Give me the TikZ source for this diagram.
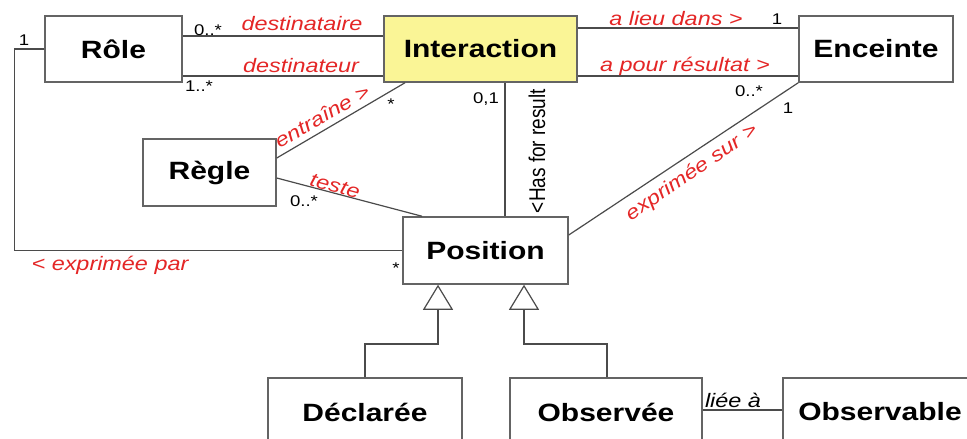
\documentclass[tikz,border=0pt]{standalone}
\usepackage{fontspec}
\usepackage{graphicx}
\setmainfont{Liberation Sans}[FakeStretch=1.2]
\newfontfamily\plainsans{Liberation Sans}
\usetikzlibrary{arrows.meta,calc}
\definecolor{umlred}{RGB}{228,38,38}
\definecolor{umlyellow}{RGB}{250,245,150}
\definecolor{umlline}{RGB}{75,75,75}
\definecolor{umlbox}{RGB}{100,100,100}
\begin{document}
\begin{tikzpicture}[x=1pt,y=-1pt,
  cls/.style={draw=umlbox,line width=1.5pt,fill=white,inner sep=0pt,
    font=\fontsize{25}{28}\selectfont\bfseries},
  conn/.style={draw=umlline,line width=1.2pt},
  rlab/.style={text=umlred,inner sep=0pt,font=\fontsize{19.5}{22}\selectfont\itshape},
  blab/.style={text=black,inner sep=0pt,font=\fontsize{19.5}{22}\selectfont\itshape},
  mult/.style={text=black,inner sep=0pt,font=\fontsize{15.5}{18}\selectfont},
  gen/.style={conn,-{Triangle[open,length=25pt,width=30pt]}},
]
\useasboundingbox (0,0) rectangle (967,439);
\clip (0,0) rectangle (967,439);
\fill[white] (0,0) rectangle (967,439);

% classes
\node[cls,minimum width=137pt,minimum height=66pt] (role) at (113.5,49) {Rôle};
\node[cls,fill=umlyellow,minimum width=193pt,minimum height=66pt] (inter) at (480.5,49) {Interaction};
\node[cls,minimum width=154pt,minimum height=66pt] (enc) at (876,49) {Enceinte};
\node[cls,minimum width=133pt,minimum height=67pt] (regle) at (209.5,172.5) {Règle};
\node[cls,minimum width=165pt,minimum height=67pt] (pos) at (485.5,250.5) {Position};
\node[cls,minimum width=194pt,minimum height=68pt] (decl) at (365,412) {Déclarée};
\node[cls,minimum width=192pt,minimum height=68pt] (obsd) at (606,412) {Observée};
\node[cls,minimum width=194pt,minimum height=68pt] (obsb) at (880,412) {Observable};

% associations
\draw[conn] (role.east |- 0,36) -- (inter.west |- 0,36);
\draw[conn] (role.east |- 0,76) -- (inter.west |- 0,76);
\draw[conn] (inter.east |- 0,28) -- (enc.west |- 0,28);
\draw[conn] (inter.east |- 0,76) -- (enc.west |- 0,76);
\draw[conn] (regle.east |- 0,158) -- (inter.south -| 405,0);
\draw[conn] (regle.east |- 0,178) -- (pos.north -| 422,0);
\draw[conn] (inter.south -| 505,0) -- (pos.north -| 505,0);
\draw[conn] (pos.east |- 0,235) -- (enc.south west);
\draw[conn] (role.west) -- ++(-30,0) |- (pos.west);
\draw[conn] (obsd.east |- 0,410) -- (obsb.west |- 0,410);

% generalizations
\draw[gen] (decl.north) |- (438,344) -- (pos.south -| 438,0);
\draw[gen] (obsd.north -| 607,0) |- (524,344) -- (pos.south -| 524,0);

% red role labels
\node[rlab] (l1) at (302,24) {destinataire};
\node[rlab] (l2) at (301,66) {destinateur};
\node[rlab,rotate=30] (l3) at (322,116) {entraîne >};
\node[rlab,rotate=-15] (l4) at (335,186) {teste};
\node[rlab] (l5) at (676,19) {a lieu dans >};
\node[rlab] (l6) at (685,66) {a pour résultat >};
\node[rlab,rotate=34.6] (l7) at (692,173) {exprimée sur >};
\node[rlab] (l8) at (110,265) {< exprimée par};
\node[blab] (l9) at (733,400) {liée à};
\node[rotate=90,inner sep=0pt,font=\plainsans\fontsize{19}{22}\selectfont] (hfr) at (537,151)
  {\scalebox{1}[1.2]{<Has for result}};

% multiplicities
\node[mult] (m1) at (208,30) {0..*};
\node[mult] (m2) at (199,86) {1..*};
\node[mult] (m3) at (24,40) {1};
\node[mult] (m4) at (391,104) {*};
\node[mult] (m5) at (486,99) {0,1};
\node[mult] (m6) at (777,19) {1};
\node[mult] (m7) at (749,91) {0..*};
\node[mult] (m8) at (788,108) {1};
\node[mult] (m9) at (304,201) {0..*};
\node[mult] (m10) at (396,268) {*};
\end{tikzpicture}
\end{document}
